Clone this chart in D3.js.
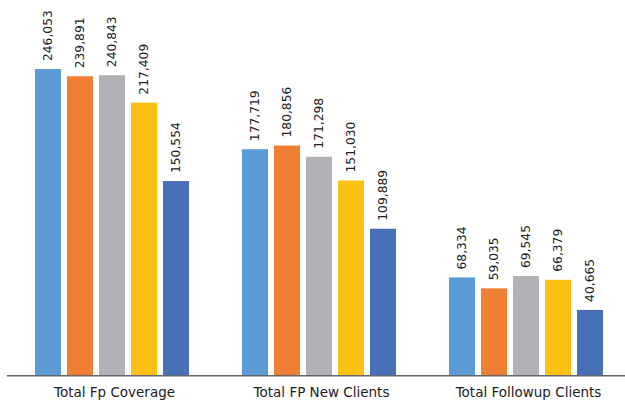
<!DOCTYPE html>
<html>
<head>
<meta charset="utf-8">
<script src="https://cdn.jsdelivr.net/npm/d3@7"></script>
<style>
  body { margin: 0; background: #fff; }
  svg { display: block; }
</style>
</head>
<body>
<script>
// data
var categories = ["Total Fp Coverage", "Total FP New Clients", "Total Followup Clients"];
var series = ["s1", "s2", "s3", "s4", "s5"];
var s1 = [246053, 177719, 68334];
var s2 = [239891, 180856, 59035];
var s3 = [240843, 171298, 69545];
var s4 = [217409, 151030, 66379];
var s5 = [150554, 109889, 40665];
var colors = ["#5B9BD5", "#EE7F33", "#B1B2B5", "#FCC012", "#4870B8"];

var allSeries = [s1, s2, s3, s4, s5];

var width = 625, height = 401;
var baseY = 375.7;

var svg = d3.select("body").append("svg")
    .attr("width", width)
    .attr("height", height);

// scales (value axis does not start at zero in the original)
var x0 = d3.scaleBand()
    .domain(categories)
    .range([8, 629]);

var x1 = d3.scaleBand()
    .domain(series)
    .range([27, 181])
    .paddingInner(0.1875);

var y = d3.scaleLinear()
    .domain([-15434, 300000])
    .range([baseY, 5.8]);

var groups = svg.selectAll("g.group")
    .data(categories)
    .enter().append("g")
    .attr("class", "group")
    .attr("transform", function(d) { return "translate(" + x0(d) + ",0)"; });

groups.each(function(cat, ci) {
    var g = d3.select(this);
    var vals = series.map(function(s, si) { return {key: s, value: allSeries[si][ci], color: colors[si]}; });

    g.selectAll("rect")
        .data(vals)
        .enter().append("rect")
        .attr("x", function(d) { return x1(d.key); })
        .attr("width", x1.bandwidth())
        .attr("y", function(d) { return y(d.value); })
        .attr("height", function(d) { return baseY - y(d.value); })
        .attr("fill", function(d) { return d.color; });

    g.selectAll("text.val")
        .data(vals)
        .enter().append("text")
        .attr("class", "val")
        .attr("transform", function(d) {
            return "translate(" + (x1(d.key) + x1.bandwidth() / 2) + "," + (y(d.value) - 8) + ") rotate(-90)";
        })
        .attr("dy", "0.36em")
        .attr("text-anchor", "start")
        .style("font-family", "DejaVu Sans")
        .style("font-size", "12.3px")
        .style("fill", "#222")
        .text(function(d) { return d3.format(",")(d.value); });
});

// x axis line
svg.append("line")
    .attr("x1", 7)
    .attr("x2", width)
    .attr("y1", baseY)
    .attr("y2", baseY)
    .attr("stroke", "#666")
    .attr("stroke-width", 1.5);

// category labels
svg.selectAll("text.cat")
    .data(categories)
    .enter().append("text")
    .attr("class", "cat")
    .attr("x", function(d) { return x0(d) + x0.bandwidth() / 2 + 3; })
    .attr("y", 397)
    .attr("text-anchor", "middle")
    .style("font-family", "DejaVu Sans")
    .style("font-size", "13.5px")
    .style("fill", "#222")
    .text(function(d) { return d; });
</script>
</body>
</html>
